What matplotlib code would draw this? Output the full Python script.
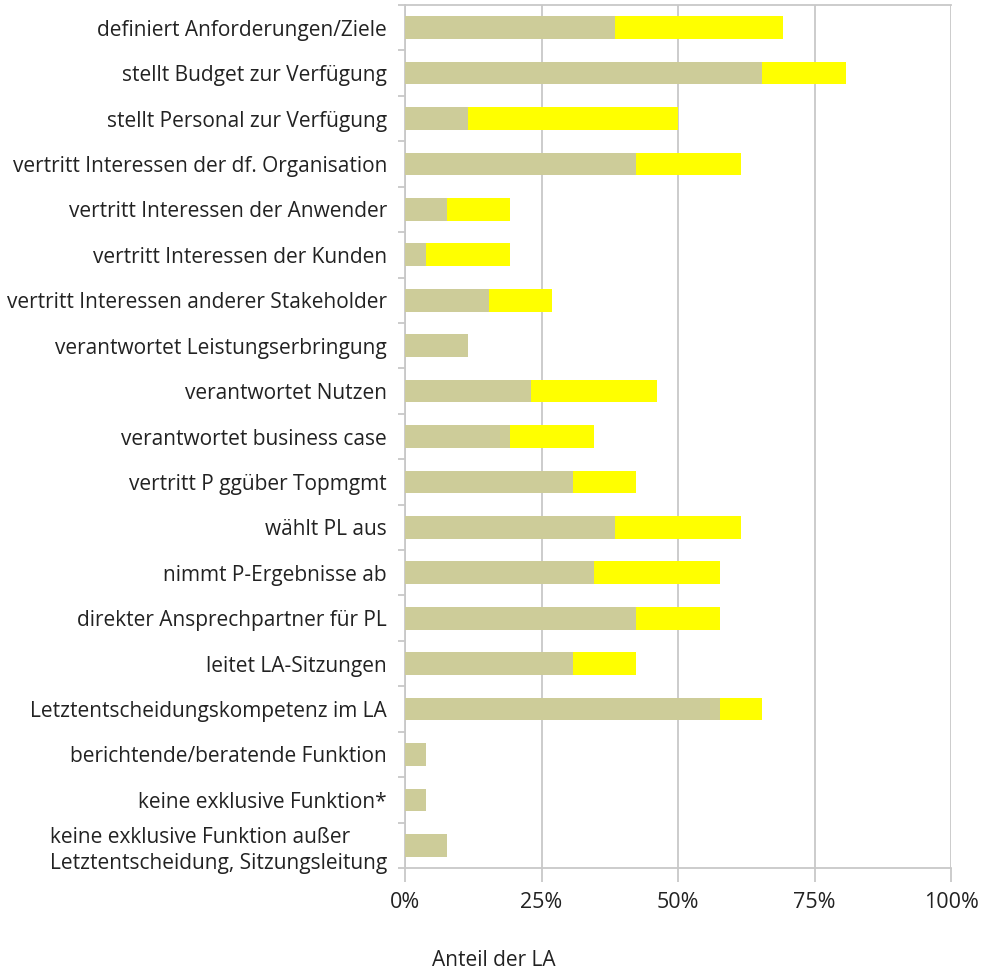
import matplotlib
matplotlib.use("Agg")
import matplotlib.pyplot as plt
import numpy as np

plt.rcParams['font.family'] = ['Open Sans', 'DejaVu Sans']

categories = [
    "definiert Anforderungen/Ziele",
    "stellt Budget zur Verfügung",
    "stellt Personal zur Verfügung",
    "vertritt Interessen der df. Organisation",
    "vertritt Interessen der Anwender",
    "vertritt Interessen der Kunden",
    "vertritt Interessen anderer Stakeholder",
    "verantwortet Leistungserbringung",
    "verantwortet Nutzen",
    "verantwortet business case",
    "vertritt P ggüber Topmgmt",
    "wählt PL aus",
    "nimmt P-Ergebnisse ab",
    "direkter Ansprechpartner für PL",
    "leitet LA-Sitzungen",
    "Letztentscheidungskompetenz im LA",
    "berichtende/beratende Funktion",
    "keine exklusive Funktion*",
    "keine exklusive Funktion außer\nLetztentscheidung, Sitzungsleitung",
]

# percentage of LA, first segment (tan) and stacked second segment (yellow)
share_main = [38.5, 65.4, 11.5, 42.3, 7.7, 3.8, 15.4, 11.5, 23.1, 19.2,
              30.8, 38.5, 34.6, 42.3, 30.8, 57.7, 3.8, 3.8, 7.7]
share_extra = [30.8, 15.4, 38.5, 19.2, 11.5, 15.4, 11.5, 0.0, 23.1, 15.4,
               11.5, 23.1, 23.1, 15.4, 11.5, 7.7, 0.0, 0.0, 0.0]

x_ticks = [0, 25, 50, 75, 100]
x_ticklabels = ["0%", "25%", "50%", "75%", "100%"]

tan = "#CDCC99"
yellow = "#FFFF00"
grid_col = "#C8C8C8"
text_col = "#222222"

fig = plt.figure(figsize=(9.81, 9.71), dpi=100)
ax = fig.add_axes([405 / 981, 1 - 868 / 971, (951 - 405) / 981, (868 - 5) / 971])

y = np.arange(len(categories))
ax.barh(y, share_main, height=0.5, color=tan, zorder=3)
ax.barh(y, share_extra, left=share_main, height=0.5, color=yellow, zorder=3)

ax.set_xlim(0, 100)
ax.set_ylim(len(categories) - 0.5, -0.5)

ax.set_xticks(x_ticks)
ax.set_xticklabels(x_ticklabels, fontsize=15.5, color=text_col)
ax.xaxis.grid(True, color=grid_col, linewidth=1.3, zorder=0)
ax.tick_params(axis='x', length=10, width=1.3, color=grid_col, pad=7)

ax.set_yticks(y)
ax.set_yticklabels(categories, fontsize=15, color=text_col,
                   multialignment='left', linespacing=1.35)
ax.set_yticks(np.arange(len(categories) + 1) - 0.5, minor=True)
ax.tick_params(axis='y', which='major', length=0, pad=13)
ax.tick_params(axis='y', which='minor', length=5, width=1.3, color=grid_col)

for side in ['left', 'bottom', 'top']:
    ax.spines[side].set_color(grid_col)
    ax.spines[side].set_linewidth(1.3)
ax.spines['right'].set_visible(False)

fig.text(494 / 981, 1 - 960 / 971, "Anteil der LA", ha='center', va='center',
         fontsize=15, color=text_col)

fig.savefig("out.png", dpi=100, facecolor="white")
